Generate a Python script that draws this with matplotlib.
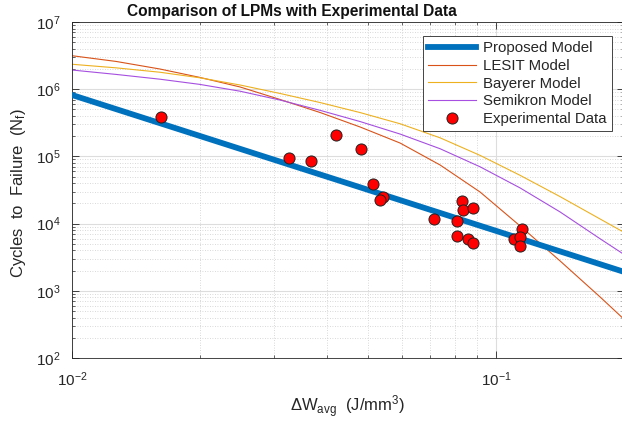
import numpy as np
import matplotlib
matplotlib.use("Agg")
import matplotlib.pyplot as plt
from matplotlib.ticker import LogLocator, NullFormatter

plt.rcParams["font.family"] = ["Liberation Sans", "DejaVu Sans"]
plt.rcParams["mathtext.fontset"] = "custom"
plt.rcParams["mathtext.rm"] = "Liberation Sans"
plt.rcParams["mathtext.it"] = "Liberation Sans:italic"
plt.rcParams["mathtext.bf"] = "Liberation Sans:bold"

# --- Proposed model (straight line in log-log) ---
prop_w = [0.01, 0.2]
prop_n = [8.2e5, 1.92e3]

# shared W grid for the literature models
model_w = [0.01, 0.0127, 0.0161, 0.02, 0.0249, 0.0309, 0.0385, 0.0478,
           0.0594, 0.0738, 0.0917, 0.114, 0.1416, 0.176, 0.2]

# --- LESIT model ---
lesit_n = [3.15e6, 2.59e6, 2.00e6, 1.50e6, 1.08e6, 7.05e5, 4.49e5, 2.74e5,
           1.58e5, 7.45e4, 2.95e4, 9.21e3, 2.78e3, 8.08e2, 3.81e2]

# --- Bayerer model ---
bay_n = [2.35e6, 2.08e6, 1.79e6, 1.48e6, 1.155e6, 8.66e5, 6.32e5, 4.49e5,
         3.06e5, 1.89e5, 1.035e5, 5.22e4, 2.52e4, 1.17e4, 7.45e3]

# --- Semikron model ---
semi_n = [1.93e6, 1.66e6, 1.41e6, 1.18e6, 9.34e5, 6.91e5, 4.84e5, 3.30e5,
          2.15e5, 1.30e5, 7.00e4, 3.39e4, 1.49e4, 5.94e3, 3.50e3]

# --- Experimental data ---
exp_w = [0.01622, 0.03255, 0.03656, 0.04195, 0.04803, 0.05135, 0.05423, 0.05325,
         0.07152, 0.08291, 0.08360, 0.08812, 0.08082, 0.08104, 0.08597, 0.08839,
         0.1150, 0.1100, 0.1136, 0.1141]
exp_n = [3.86e5, 9.57e4, 8.54e4, 2.08e5, 1.29e5, 3.84e4, 2.51e4, 2.22e4,
         1.17e4, 2.17e4, 1.57e4, 1.68e4, 1.09e4, 6.65e3, 5.80e3, 5.14e3,
         8.45e3, 6.00e3, 6.38e3, 4.69e3]

fig = plt.figure(figsize=(6.22, 4.23), dpi=100)
ax = fig.add_axes([72 / 622, 65 / 423, 551.7 / 622, 336 / 423])

ax.plot(prop_w, prop_n, color="#0072BD", lw=4.2, label="Proposed Model", zorder=3)
ax.plot(model_w, lesit_n, color="#D95319", lw=0.8, label="LESIT Model", zorder=2)
ax.plot(model_w, bay_n, color="#EDB120", lw=0.8, label="Bayerer Model", zorder=2)
ax.plot(model_w, semi_n, color="#A64FE0", lw=0.8, label="Semikron Model", zorder=2)
ax.plot(exp_w, exp_n, "o", ms=8, mfc="#FF0000", mec="#222222", mew=0.7,
        label="Experimental Data", zorder=4)

ax.set_xscale("log")
ax.set_yscale("log")
ax.set_xlim(0.01, 0.2)
ax.set_ylim(1e2, 1e7)

ax.yaxis.set_major_locator(LogLocator(base=10, numticks=10))
ax.yaxis.set_minor_locator(LogLocator(base=10, subs=np.arange(2, 10), numticks=20))
ax.yaxis.set_minor_formatter(NullFormatter())
ax.xaxis.set_minor_formatter(NullFormatter())

ax.grid(True, which="major", color="#DDDDDD", lw=0.8, ls="-")
ax.grid(True, which="minor", color="#CCCCCC", lw=0.6, ls=(0, (1, 2)))
ax.set_axisbelow(True)

ax.tick_params(which="both", direction="in", top=True, right=True, colors="#262626",
               labelsize=11)
ax.tick_params(which="major", length=5, width=0.6)
ax.tick_params(axis="x", which="major", pad=9)
ax.tick_params(axis="y", which="major", pad=8)
ax.tick_params(which="minor", length=2.5, width=0.5)
for s in ax.spines.values():
    s.set_color("#262626")
    s.set_linewidth(0.6)

ax.set_title("Comparison of LPMs with Experimental Data", fontsize=11.2,
             fontweight="bold", color="#111111", x=0.399, pad=4)
ax.set_xlabel(r"$\Delta$W$_{\mathrm{avg}}$  (J/mm$^3$)", fontsize=12, color="#262626")
ax.set_ylabel(r"Cycles  to  Failure  (N$_{\mathrm{f}}$)", fontsize=12, color="#262626")
ax.xaxis.set_label_coords(0.5, -0.105)
ax.yaxis.set_label_coords(-0.08, 0.49)

leg = ax.legend(loc="upper right", bbox_to_anchor=(0.979, 0.958), fontsize=10.8,
                handlelength=3.2, labelspacing=0.24, borderpad=0.35,
                fancybox=False, framealpha=1, edgecolor="#262626",
                handletextpad=0.5, borderaxespad=0)
leg.get_frame().set_linewidth(0.6)
for t in leg.get_texts():
    t.set_color("#262626")

fig.savefig("out.png", dpi=100)
